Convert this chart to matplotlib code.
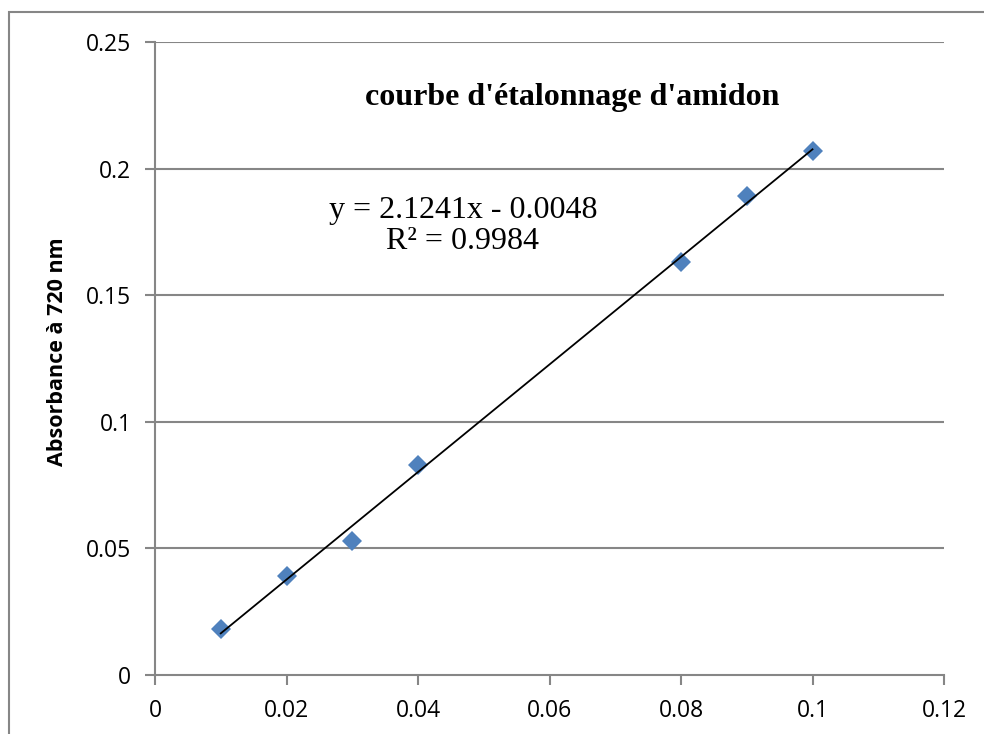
import matplotlib.pyplot as plt
import numpy as np
from matplotlib.patches import Rectangle

# concentration d'amidon et absorbance
concentration = [0.01, 0.02, 0.03, 0.04, 0.08, 0.09, 0.1]
absorbance = [0.018, 0.039, 0.053, 0.083, 0.163, 0.189, 0.207]
slope = 2.1241
intercept = -0.0048
xticks = [0, 0.02, 0.04, 0.06, 0.08, 0.1, 0.12]
xtick_labels = ['0', '0.02', '0.04', '0.06', '0.08', '0.1', '0.12']
yticks = [0, 0.05, 0.1, 0.15, 0.2, 0.25]
ytick_labels = ['0', '0.05', '0.1', '0.15', '0.2', '0.25']

grey = '#868686'
fig = plt.figure(figsize=(9.84, 7.34), dpi=100)
W, H = 984, 734
ax = fig.add_axes([155 / W, 1 - 675 / H, (944 - 155) / W, (675 - 42) / H])

# cadre du graphique
fig.patches.append(Rectangle((9 / W, -0.1), 1.2, 1 - 12 / H + 0.1, transform=fig.transFigure,
                             fill=False, edgecolor=grey, linewidth=1.5))

ax.set_xlim(0, 0.12)
ax.set_ylim(0, 0.25)
for y in yticks[1:]:
    ax.axhline(y, color=grey, linewidth=1.5, zorder=0)

xfit = np.array([concentration[0], concentration[-1]])
ax.plot(xfit, slope * xfit + intercept, color='black', linewidth=1.3, zorder=3)
ax.plot(concentration, absorbance, linestyle='none', marker='D', markersize=10,
        color='#4F81BD', markeredgewidth=0, zorder=2)

ax.set_xticks(xticks)
ax.set_xticklabels(xtick_labels)
ax.set_yticks(yticks)
ax.set_yticklabels(ytick_labels)
for s in ['top', 'right']:
    ax.spines[s].set_visible(False)
for s in ['left', 'bottom']:
    ax.spines[s].set_color(grey)
    ax.spines[s].set_linewidth(1.5)
ax.tick_params(direction='out', length=7, width=1.5, color=grey,
               labelsize=16.5, pad=10)
for lab in ax.get_xticklabels() + ax.get_yticklabels():
    lab.set_fontfamily('Open Sans')

ax.set_ylabel('Absorbance à 720 nm', fontsize=15.5, fontweight='bold',
              fontfamily='Open Sans')
ax.yaxis.set_label_coords((68 - 155) / 789, 0.51)

fig.text(572 / W, 1 - 98 / H, "courbe d'étalonnage d'amidon", ha='center', va='center',
         fontsize=23, fontweight='bold', fontfamily='Liberation Serif')
fig.text(463 / W, 1 - 226 / H, "y = 2.1241x - 0.0048\nR² = 0.9984", ha='center', va='center',
         fontsize=23, fontfamily='Liberation Serif', linespacing=1.05)

fig.savefig('out.png', dpi=100)
